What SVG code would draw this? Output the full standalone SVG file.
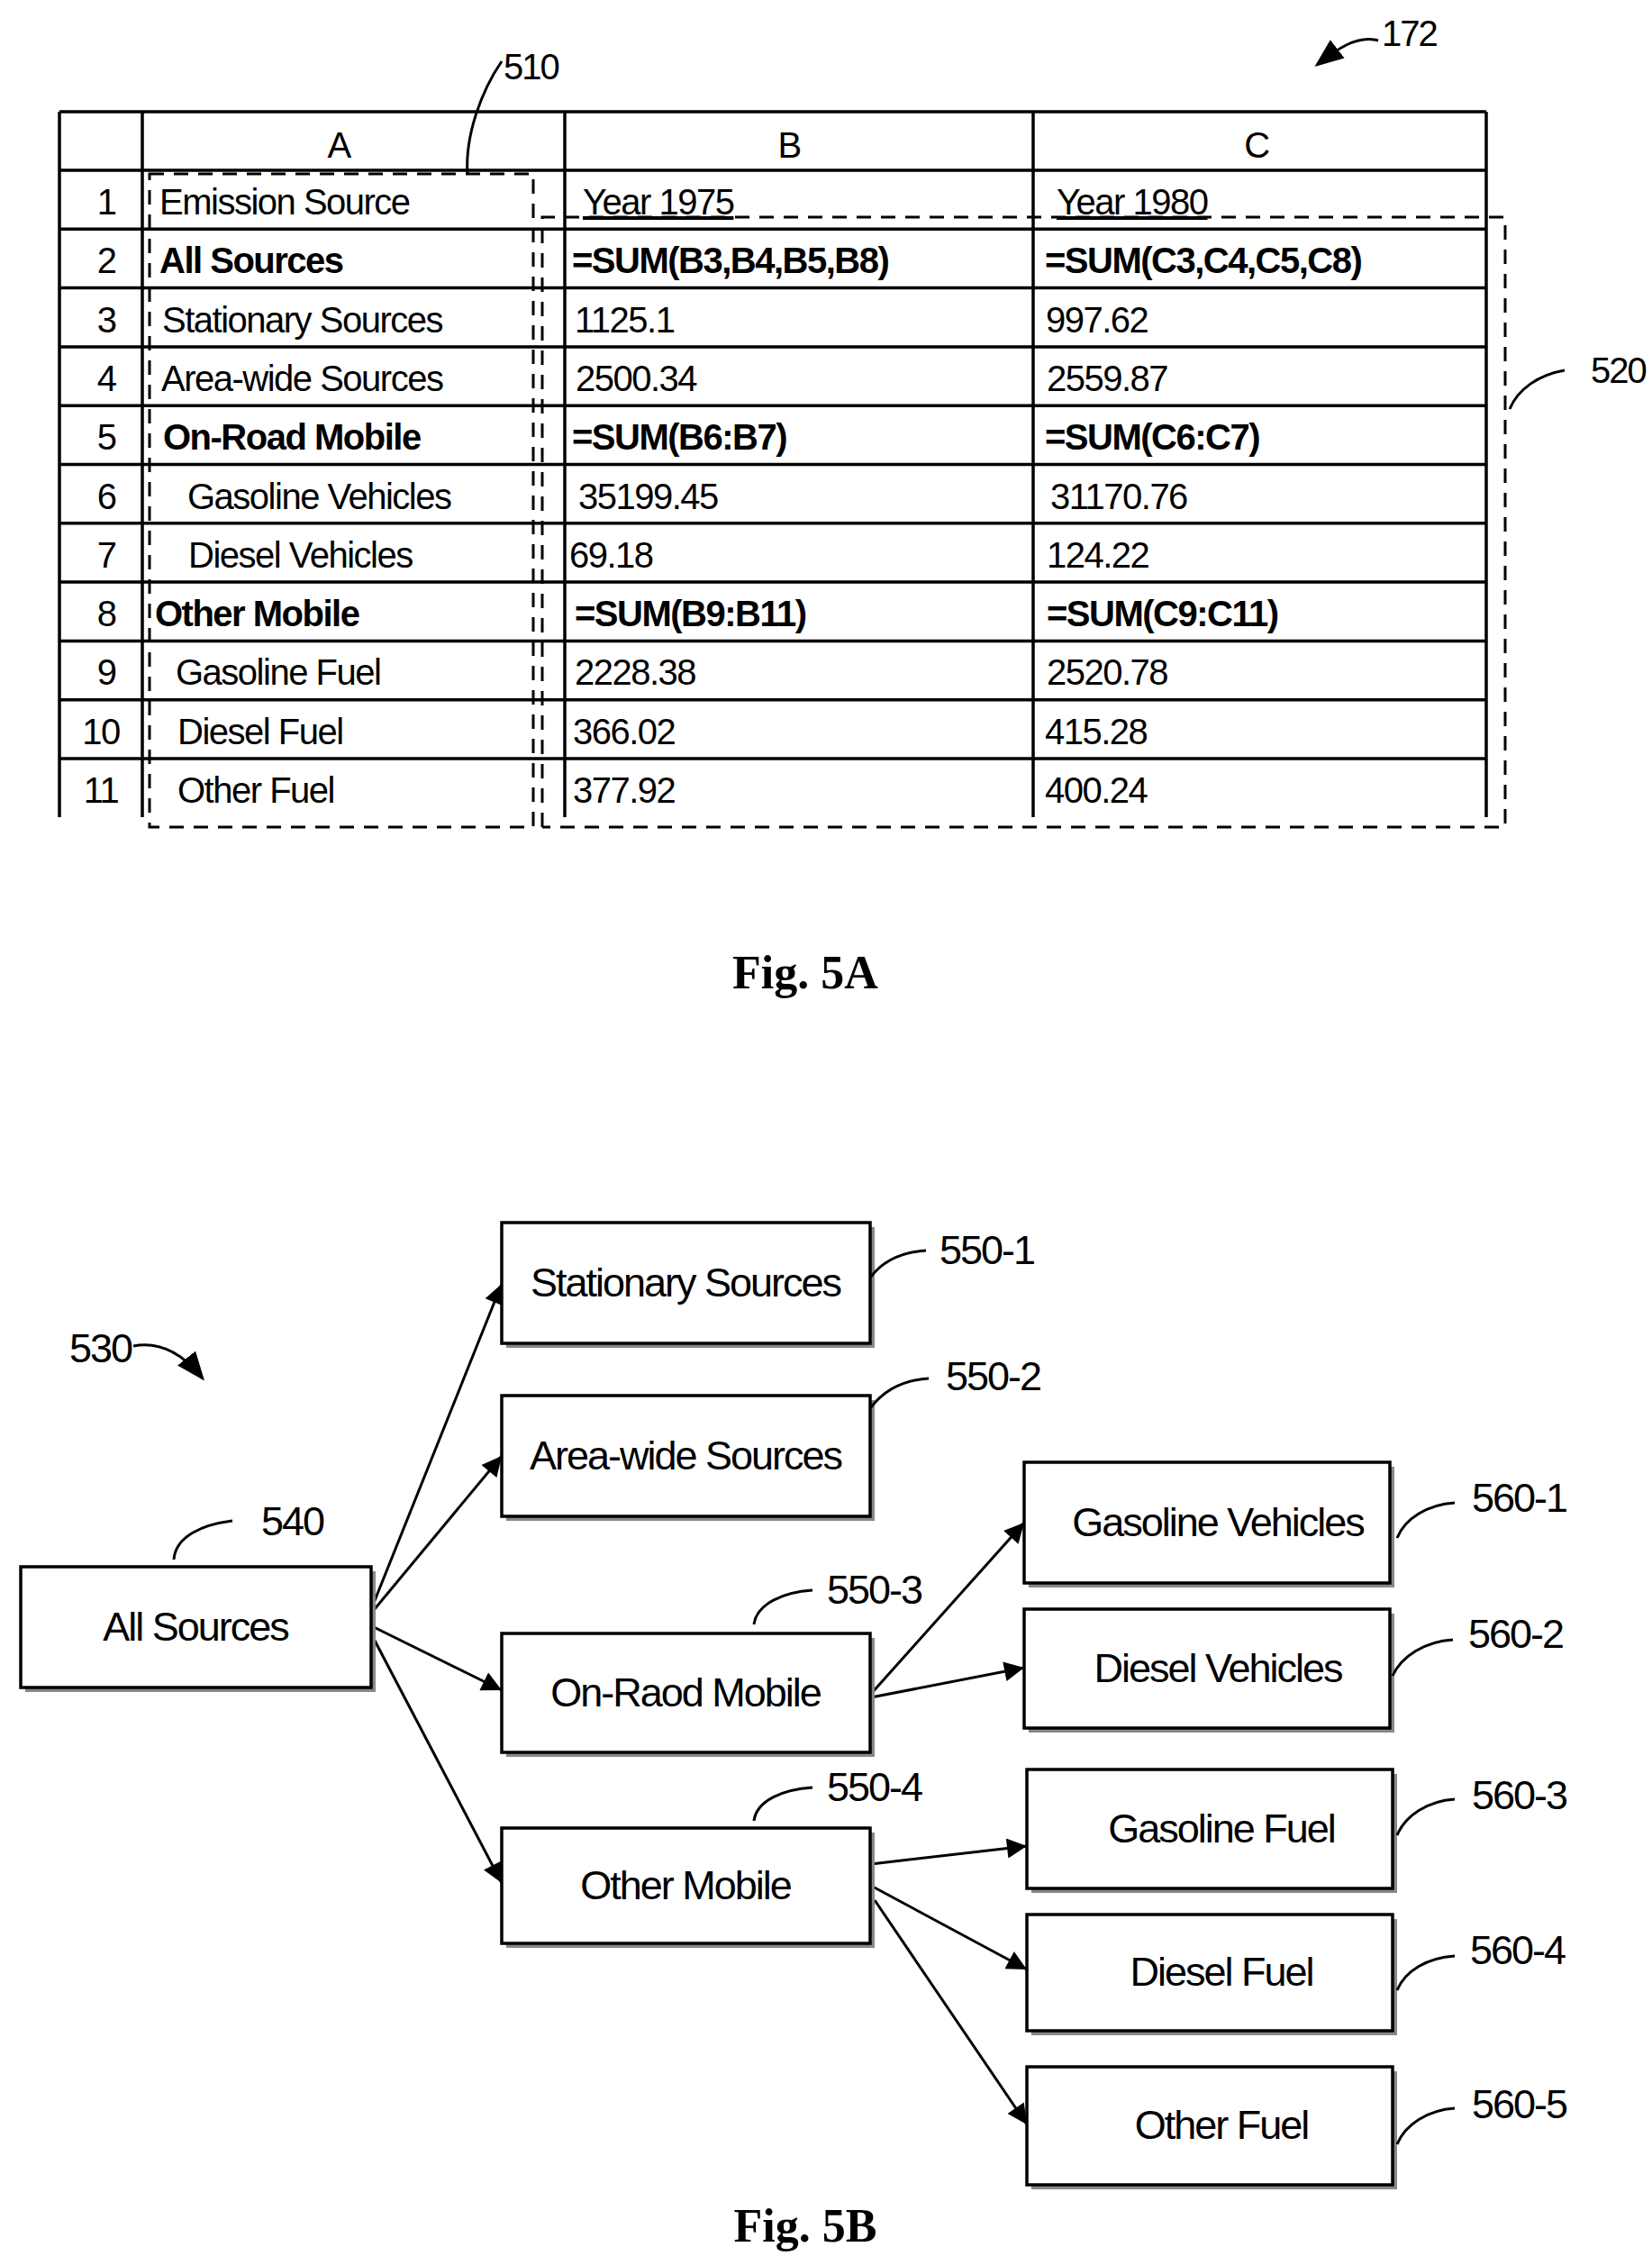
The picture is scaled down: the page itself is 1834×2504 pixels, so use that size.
<svg xmlns="http://www.w3.org/2000/svg" width="1834" height="2504" viewBox="0 0 1834 2504">
<defs>
<style>
.t{font-family:"Liberation Sans",Arial,sans-serif;font-size:40px;letter-spacing:-1.5px;fill:#000}
.b{font-weight:bold}
.n{font-family:"Liberation Sans",Arial,sans-serif;font-size:45px;letter-spacing:-2px;fill:#000}
.f{font-family:"Liberation Serif","Times New Roman",serif;font-size:52px;font-weight:bold;text-anchor:middle}
.g{stroke:#000;stroke-width:3.5;fill:none}
.d{stroke:#000;stroke-width:3;fill:none;stroke-dasharray:16 11}
.l{stroke:#000;stroke-width:3;fill:none}
.box{fill:#fff;stroke:#000;stroke-width:3.5}
.sh{fill:#888}
.c{stroke:#000;stroke-width:3;fill:none;marker-end:url(#ah)}
</style>
<marker id="ah" viewBox="0 0 10 10" refX="10" refY="5" markerWidth="30" markerHeight="22" orient="auto" markerUnits="userSpaceOnUse">
<path d="M0,0 L10,5 L0,10 z" fill="#000"/>
</marker>
<marker id="ah2" viewBox="0 0 10 10" refX="9" refY="5" markerWidth="32" markerHeight="32" orient="auto" markerUnits="userSpaceOnUse">
<path d="M0,1 L10,5 L0,9 z" fill="#000"/>
</marker>
</defs>
<rect width="1834" height="2504" fill="#fff"/>

<g id="table">
<path class="g" d="M66,124H1650M66,189H1650M66,124V907M158,124V907M627,124V907M1147,124V907M1650,124V907"/>
<path class="g" d="M66,254.3H1650M66,319.6H1650M66,384.9H1650M66,450.2H1650M66,515.5H1650M66,580.8H1650M66,646.1H1650M66,711.4H1650M66,776.7H1650M66,842H1650"/>
<g class="t" text-anchor="middle">
<text x="376" y="175">A</text><text x="876" y="175">B</text><text x="1395" y="175">C</text>
<text x="118" y="238">1</text><text x="118" y="303">2</text><text x="118" y="369">3</text><text x="118" y="434">4</text><text x="118" y="499">5</text><text x="118" y="565">6</text><text x="118" y="630">7</text><text x="118" y="695">8</text><text x="118" y="760">9</text><text x="112" y="826">10</text><text x="112" y="891">11</text>
</g>
<g class="t">
<text x="177" y="238">Emission Source</text>
<text x="177" y="303" class="b">All Sources</text>
<text x="180" y="369">Stationary Sources</text>
<text x="179" y="434">Area-wide Sources</text>
<text x="181" y="499" class="b">On-Road Mobile</text>
<text x="208" y="565">Gasoline Vehicles</text>
<text x="209" y="630">Diesel Vehicles</text>
<text x="172" y="695" class="b">Other Mobile</text>
<text x="195" y="760">Gasoline Fuel</text>
<text x="197" y="826">Diesel Fuel</text>
<text x="197" y="891">Other Fuel</text>
<text x="647" y="238" text-decoration="underline">Year 1975</text>
<text x="635" y="303" class="b">=SUM(B3,B4,B5,B8)</text>
<text x="638" y="369">1125.1</text>
<text x="639" y="434">2500.34</text>
<text x="635" y="499" class="b">=SUM(B6:B7)</text>
<text x="642" y="565">35199.45</text>
<text x="632" y="630">69.18</text>
<text x="638" y="695" class="b">=SUM(B9:B11)</text>
<text x="638" y="760">2228.38</text>
<text x="636" y="826">366.02</text>
<text x="636" y="891">377.92</text>
<text x="1173" y="238" text-decoration="underline">Year 1980</text>
<text x="1160" y="303" class="b">=SUM(C3,C4,C5,C8)</text>
<text x="1161" y="369">997.62</text>
<text x="1162" y="434">2559.87</text>
<text x="1160" y="499" class="b">=SUM(C6:C7)</text>
<text x="1166" y="565">31170.76</text>
<text x="1162" y="630">124.22</text>
<text x="1162" y="695" class="b">=SUM(C9:C11)</text>
<text x="1162" y="760">2520.78</text>
<text x="1160" y="826">415.28</text>
<text x="1160" y="891">400.24</text>
</g>
</g>

<g id="sel510">
<rect class="d" x="166" y="193" width="426" height="725"/>
<path class="l" d="M519,193 C516,150 535,100 557,68"/>
<text class="n" x="559" y="88" style="font-size:40px">510</text>
</g>
<g id="sel520">
<path class="d" d="M602,918V241H1671V918H602"/>
<path class="l" d="M1676,454 C1685,432 1708,416 1737,411"/>
<text class="n" x="1766" y="425" style="font-size:40px">520</text>
</g>
<g id="ref172">
<path class="l" d="M1530,45 C1505,38 1480,58 1462,72" marker-end="url(#ah2)"/>
<text class="n" x="1534" y="51" style="font-size:40px">172</text>
</g>
<text class="f" x="894" y="1097">Fig. 5A</text>

<g id="connectors">
<path class="c" d="M415,1779L557,1425"/>
<path class="c" d="M415,1787L557,1616"/>
<path class="c" d="M415,1806L557,1876"/>
<path class="c" d="M415,1819L557,2090"/>
<path class="c" d="M967,1880L1137,1690"/>
<path class="c" d="M967,1884L1137,1851"/>
<path class="c" d="M967,2069L1140,2049"/>
<path class="c" d="M967,2093L1140,2186"/>
<path class="c" d="M971,2109L1140,2358"/>
</g>

<g id="ref530">
<path class="l" d="M148,1494 C180,1488 205,1505 225,1530" marker-end="url(#ah2)"/>
<text class="n" x="77" y="1512">530</text>
</g>

<g id="n540"><rect class="sh" x="28" y="1744" width="389" height="134"/><rect class="box" x="23" y="1739" width="389" height="134"/><text class="n" x="217" y="1821" text-anchor="middle">All Sources</text>
<path class="l" d="M193,1731C195,1705 225,1692 258,1688"/><text class="n" x="290" y="1704">540</text></g>
<g id="n550-1"><rect class="sh" x="562" y="1362" width="409" height="134"/><rect class="box" x="557" y="1357" width="409" height="134"/><text class="n" x="761" y="1439" text-anchor="middle">Stationary Sources</text>
<path class="l" d="M967,1417C980,1400 1000,1390 1028,1388"/><text class="n" x="1043" y="1403">550-1</text></g>
<g id="n550-2"><rect class="sh" x="562" y="1554" width="409" height="134"/><rect class="box" x="557" y="1549" width="409" height="134"/><text class="n" x="761" y="1631" text-anchor="middle">Area-wide Sources</text>
<path class="l" d="M967,1562C980,1545 1000,1532 1031,1530"/><text class="n" x="1050" y="1543">550-2</text></g>
<g id="n550-3"><rect class="sh" x="562" y="1818" width="409" height="132"/><rect class="box" x="557" y="1813" width="409" height="132"/><text class="n" x="761" y="1894" text-anchor="middle">On-Raod Mobile</text>
<path class="l" d="M837,1803C840,1780 870,1767 902,1765"/><text class="n" x="918" y="1780">550-3</text></g>
<g id="n550-4"><rect class="sh" x="562" y="2034" width="409" height="128"/><rect class="box" x="557" y="2029" width="409" height="128"/><text class="n" x="761" y="2108" text-anchor="middle">Other Mobile</text>
<path class="l" d="M837,2021C840,1998 870,1986 902,1984"/><text class="n" x="918" y="1999">550-4</text></g>
<g id="n560-1"><rect class="sh" x="1142" y="1628" width="406" height="134"/><rect class="box" x="1137" y="1623" width="406" height="134"/><text class="n" x="1352" y="1705" text-anchor="middle">Gasoline Vehicles</text>
<path class="l" d="M1551,1707C1560,1685 1585,1670 1615,1668"/><text class="n" x="1634" y="1678">560-1</text></g>
<g id="n560-2"><rect class="sh" x="1142" y="1791" width="406" height="132"/><rect class="box" x="1137" y="1786" width="406" height="132"/><text class="n" x="1352" y="1867" text-anchor="middle">Diesel Vehicles</text>
<path class="l" d="M1546,1860C1556,1838 1582,1822 1613,1820"/><text class="n" x="1630" y="1829">560-2</text></g>
<g id="n560-3"><rect class="sh" x="1145" y="1969" width="406" height="132"/><rect class="box" x="1140" y="1964" width="406" height="132"/><text class="n" x="1356" y="2045" text-anchor="middle">Gasoline Fuel</text>
<path class="l" d="M1551,2037C1560,2015 1585,1999 1615,1997"/><text class="n" x="1634" y="2008">560-3</text></g>
<g id="n560-4"><rect class="sh" x="1145" y="2130" width="406" height="129"/><rect class="box" x="1140" y="2125" width="406" height="129"/><text class="n" x="1356" y="2204" text-anchor="middle">Diesel Fuel</text>
<path class="l" d="M1551,2209C1560,2187 1585,2173 1615,2171"/><text class="n" x="1632" y="2180">560-4</text></g>
<g id="n560-5"><rect class="sh" x="1145" y="2299" width="406" height="131"/><rect class="box" x="1140" y="2294" width="406" height="131"/><text class="n" x="1356" y="2374" text-anchor="middle">Other Fuel</text>
<path class="l" d="M1551,2380C1560,2358 1585,2342 1615,2340"/><text class="n" x="1634" y="2351">560-5</text></g>

<text class="f" x="894" y="2488">Fig. 5B</text>
</svg>
